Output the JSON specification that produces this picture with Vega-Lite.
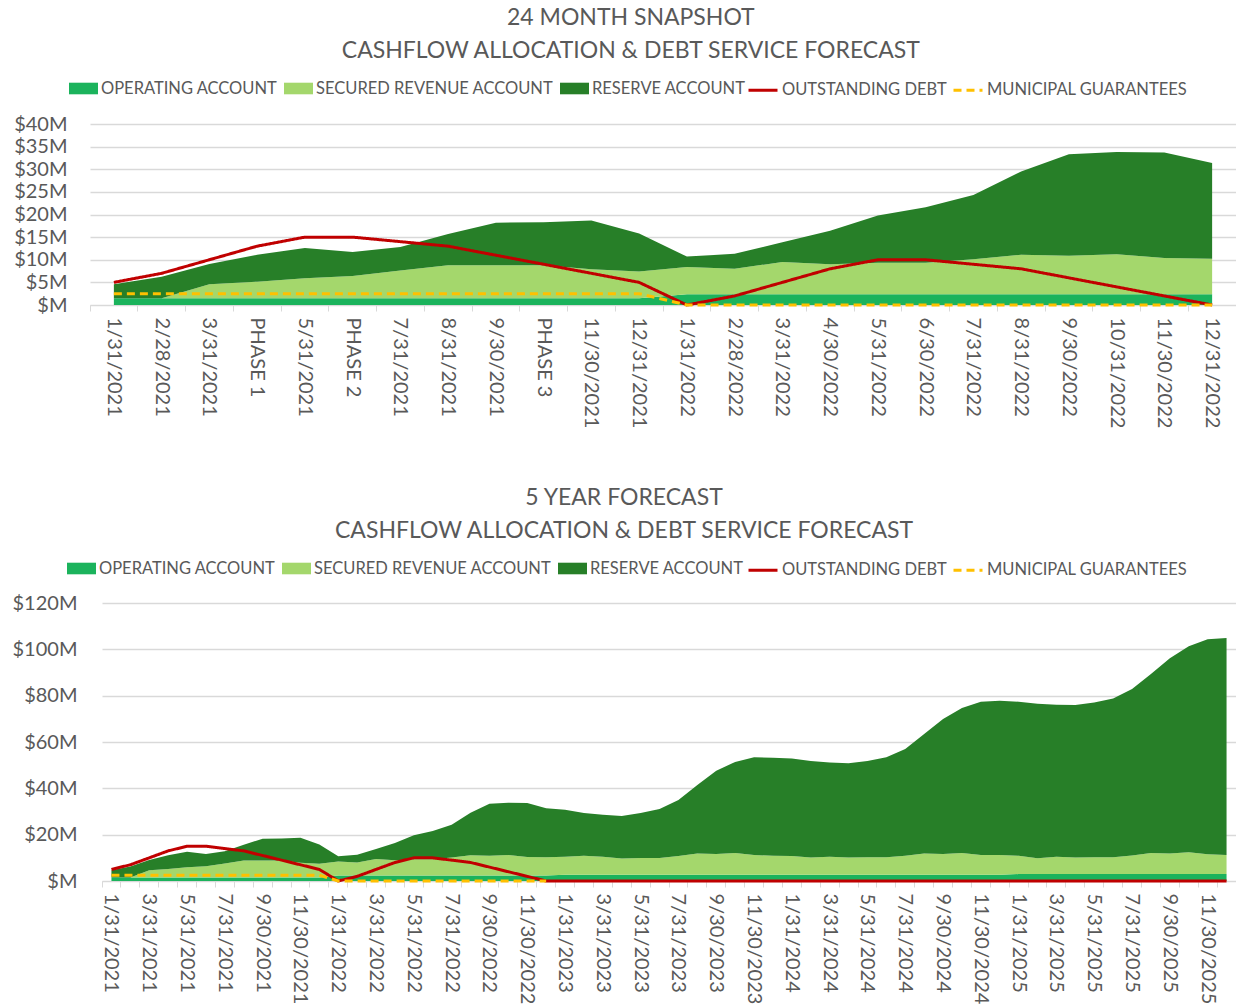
{
  "$schema": "https://vega.github.io/schema/vega-lite/v6.json",
  "background": "white",
  "padding": {"left": 12, "top": 7, "right": 2, "bottom": 0},
  "datasets": {
    "snap": [
      {"m": "1/31/2021", "a_operating": 1.5, "b_secured": 0, "c_reserve": 3.1, "debt": 5, "guarantees": 2.5},
      {"m": "2/28/2021", "a_operating": 1.5, "b_secured": 0, "c_reserve": 4.75, "debt": 7, "guarantees": 2.5},
      {"m": "3/31/2021", "a_operating": 1.5, "b_secured": 3.1, "c_reserve": 4.45, "debt": 10, "guarantees": 2.5},
      {"m": "PHASE 1", "a_operating": 1.5, "b_secured": 3.65, "c_reserve": 5.95, "debt": 13, "guarantees": 2.5},
      {"m": "5/31/2021", "a_operating": 1.5, "b_secured": 4.4, "c_reserve": 6.7, "debt": 15, "guarantees": 2.5},
      {"m": "PHASE 2", "a_operating": 1.5, "b_secured": 4.9, "c_reserve": 5.3, "debt": 15, "guarantees": 2.5},
      {"m": "7/31/2021", "a_operating": 1.5, "b_secured": 6.1, "c_reserve": 5.2, "debt": 14, "guarantees": 2.5},
      {"m": "8/31/2021", "a_operating": 1.5, "b_secured": 7.3, "c_reserve": 6.9, "debt": 13, "guarantees": 2.5},
      {"m": "9/30/2021", "a_operating": 1.5, "b_secured": 7.3, "c_reserve": 9.4, "debt": 11, "guarantees": 2.5},
      {"m": "PHASE 3", "a_operating": 1.5, "b_secured": 7.3, "c_reserve": 9.5, "debt": 9, "guarantees": 2.5},
      {"m": "11/30/2021", "a_operating": 1.5, "b_secured": 6.4, "c_reserve": 10.8, "debt": 7, "guarantees": 2.5},
      {"m": "12/31/2021", "a_operating": 1.5, "b_secured": 5.9, "c_reserve": 8.4, "debt": 5, "guarantees": 2.5},
      {"m": "1/31/2022", "a_operating": 2.4, "b_secured": 6.0, "c_reserve": 2.3, "debt": 0, "guarantees": 0},
      {"m": "2/28/2022", "a_operating": 2.4, "b_secured": 5.6, "c_reserve": 3.3, "debt": 2, "guarantees": 0},
      {"m": "3/31/2022", "a_operating": 2.4, "b_secured": 7.1, "c_reserve": 4.35, "debt": 5, "guarantees": 0},
      {"m": "4/30/2022", "a_operating": 2.4, "b_secured": 6.6, "c_reserve": 7.4, "debt": 8, "guarantees": 0},
      {"m": "5/31/2022", "a_operating": 2.4, "b_secured": 6.95, "c_reserve": 10.45, "debt": 10, "guarantees": 0},
      {"m": "6/30/2022", "a_operating": 2.4, "b_secured": 6.95, "c_reserve": 12.25, "debt": 10, "guarantees": 0},
      {"m": "7/31/2022", "a_operating": 2.4, "b_secured": 7.7, "c_reserve": 14.2, "debt": 9, "guarantees": 0},
      {"m": "8/31/2022", "a_operating": 2.4, "b_secured": 8.7, "c_reserve": 18.4, "debt": 8, "guarantees": 0},
      {"m": "9/30/2022", "a_operating": 2.4, "b_secured": 8.5, "c_reserve": 22.4, "debt": 6, "guarantees": 0},
      {"m": "10/31/2022", "a_operating": 2.4, "b_secured": 8.8, "c_reserve": 22.6, "debt": 4, "guarantees": 0},
      {"m": "11/30/2022", "a_operating": 2.4, "b_secured": 8.0, "c_reserve": 23.3, "debt": 2, "guarantees": 0},
      {"m": "12/31/2022", "a_operating": 2.4, "b_secured": 7.8, "c_reserve": 21.2, "debt": 0, "guarantees": 0}
    ],
    "five": [
      {"m": "1/31/2021", "a_operating": 1.5, "b_secured": 0, "c_reserve": 3.1, "debt": 5, "guarantees": 2.5},
      {"m": "2/28/2021", "a_operating": 1.5, "b_secured": 0, "c_reserve": 4.75, "debt": 7, "guarantees": 2.5},
      {"m": "3/31/2021", "a_operating": 1.5, "b_secured": 3.1, "c_reserve": 4.45, "debt": 10, "guarantees": 2.5},
      {"m": "4/30/2021", "a_operating": 1.5, "b_secured": 3.65, "c_reserve": 5.95, "debt": 13, "guarantees": 2.5},
      {"m": "5/31/2021", "a_operating": 1.5, "b_secured": 4.4, "c_reserve": 6.7, "debt": 15, "guarantees": 2.5},
      {"m": "6/30/2021", "a_operating": 1.5, "b_secured": 4.9, "c_reserve": 5.3, "debt": 15, "guarantees": 2.5},
      {"m": "7/31/2021", "a_operating": 1.5, "b_secured": 6.1, "c_reserve": 5.2, "debt": 14, "guarantees": 2.5},
      {"m": "8/31/2021", "a_operating": 1.5, "b_secured": 7.3, "c_reserve": 6.9, "debt": 13, "guarantees": 2.5},
      {"m": "9/30/2021", "a_operating": 1.5, "b_secured": 7.3, "c_reserve": 9.4, "debt": 11, "guarantees": 2.5},
      {"m": "10/31/2021", "a_operating": 1.5, "b_secured": 7.3, "c_reserve": 9.5, "debt": 9, "guarantees": 2.5},
      {"m": "11/30/2021", "a_operating": 1.5, "b_secured": 6.4, "c_reserve": 10.8, "debt": 7, "guarantees": 2.5},
      {"m": "12/31/2021", "a_operating": 1.5, "b_secured": 5.9, "c_reserve": 8.4, "debt": 5, "guarantees": 2.5},
      {"m": "1/31/2022", "a_operating": 2.4, "b_secured": 6.0, "c_reserve": 2.3, "debt": 0, "guarantees": 0},
      {"m": "2/28/2022", "a_operating": 2.4, "b_secured": 5.6, "c_reserve": 3.3, "debt": 2, "guarantees": 0},
      {"m": "3/31/2022", "a_operating": 2.4, "b_secured": 7.1, "c_reserve": 4.35, "debt": 5, "guarantees": 0},
      {"m": "4/30/2022", "a_operating": 2.4, "b_secured": 6.6, "c_reserve": 7.4, "debt": 8, "guarantees": 0},
      {"m": "5/31/2022", "a_operating": 2.4, "b_secured": 6.95, "c_reserve": 10.45, "debt": 10, "guarantees": 0},
      {"m": "6/30/2022", "a_operating": 2.4, "b_secured": 6.95, "c_reserve": 12.25, "debt": 10, "guarantees": 0},
      {"m": "7/31/2022", "a_operating": 2.4, "b_secured": 7.7, "c_reserve": 14.2, "debt": 9, "guarantees": 0},
      {"m": "8/31/2022", "a_operating": 2.4, "b_secured": 8.7, "c_reserve": 18.4, "debt": 8, "guarantees": 0},
      {"m": "9/30/2022", "a_operating": 2.4, "b_secured": 8.5, "c_reserve": 22.4, "debt": 6, "guarantees": 0},
      {"m": "10/31/2022", "a_operating": 2.4, "b_secured": 8.8, "c_reserve": 22.6, "debt": 4, "guarantees": 0},
      {"m": "11/30/2022", "a_operating": 2.4, "b_secured": 8.0, "c_reserve": 23.3, "debt": 2, "guarantees": 0},
      {"m": "12/31/2022", "a_operating": 2.4, "b_secured": 7.8, "c_reserve": 21.2, "debt": 0, "guarantees": 0},
      {"m": "1/31/2023", "a_operating": 2.7, "b_secured": 7.8, "c_reserve": 20.3, "debt": 0},
      {"m": "2/28/2023", "a_operating": 2.7, "b_secured": 8.2, "c_reserve": 18.4, "debt": 0},
      {"m": "3/31/2023", "a_operating": 2.7, "b_secured": 7.8, "c_reserve": 18.1, "debt": 0},
      {"m": "4/30/2023", "a_operating": 2.7, "b_secured": 7.0, "c_reserve": 18.4, "debt": 0},
      {"m": "5/31/2023", "a_operating": 2.7, "b_secured": 7.2, "c_reserve": 19.4, "debt": 0},
      {"m": "6/30/2023", "a_operating": 2.7, "b_secured": 7.2, "c_reserve": 21.2, "debt": 0},
      {"m": "7/31/2023", "a_operating": 2.7, "b_secured": 8.1, "c_reserve": 24.2, "debt": 0},
      {"m": "8/31/2023", "a_operating": 2.7, "b_secured": 9.2, "c_reserve": 29.5, "debt": 0},
      {"m": "9/30/2023", "a_operating": 2.7, "b_secured": 9.0, "c_reserve": 35.9, "debt": 0},
      {"m": "10/31/2023", "a_operating": 2.7, "b_secured": 9.4, "c_reserve": 39.3, "debt": 0},
      {"m": "11/30/2023", "a_operating": 2.7, "b_secured": 8.5, "c_reserve": 42.2, "debt": 0},
      {"m": "12/31/2023", "a_operating": 2.7, "b_secured": 8.2, "c_reserve": 42.3, "debt": 0},
      {"m": "1/31/2024", "a_operating": 2.7, "b_secured": 8.1, "c_reserve": 42.1, "debt": 0},
      {"m": "2/29/2024", "a_operating": 2.7, "b_secured": 7.4, "c_reserve": 41.7, "debt": 0},
      {"m": "3/31/2024", "a_operating": 2.7, "b_secured": 7.8, "c_reserve": 40.6, "debt": 0},
      {"m": "4/30/2024", "a_operating": 2.7, "b_secured": 7.4, "c_reserve": 40.7, "debt": 0},
      {"m": "5/31/2024", "a_operating": 2.7, "b_secured": 7.5, "c_reserve": 41.6, "debt": 0},
      {"m": "6/30/2024", "a_operating": 2.7, "b_secured": 7.5, "c_reserve": 43.2, "debt": 0},
      {"m": "7/31/2024", "a_operating": 2.7, "b_secured": 8.2, "c_reserve": 46.1, "debt": 0},
      {"m": "8/31/2024", "a_operating": 2.7, "b_secured": 9.2, "c_reserve": 51.5, "debt": 0},
      {"m": "9/30/2024", "a_operating": 2.7, "b_secured": 9.0, "c_reserve": 58.2, "debt": 0},
      {"m": "10/31/2024", "a_operating": 2.7, "b_secured": 9.4, "c_reserve": 62.6, "debt": 0},
      {"m": "11/30/2024", "a_operating": 2.7, "b_secured": 8.5, "c_reserve": 66.2, "debt": 0},
      {"m": "12/31/2024", "a_operating": 2.7, "b_secured": 8.5, "c_reserve": 66.6, "debt": 0},
      {"m": "1/31/2025", "a_operating": 3.0, "b_secured": 7.9, "c_reserve": 66.5, "debt": 0},
      {"m": "2/28/2025", "a_operating": 3.0, "b_secured": 6.8, "c_reserve": 66.7, "debt": 0},
      {"m": "3/31/2025", "a_operating": 3.0, "b_secured": 7.5, "c_reserve": 65.6, "debt": 0},
      {"m": "4/30/2025", "a_operating": 3.0, "b_secured": 7.1, "c_reserve": 65.9, "debt": 0},
      {"m": "5/31/2025", "a_operating": 3.0, "b_secured": 7.2, "c_reserve": 66.9, "debt": 0},
      {"m": "6/30/2025", "a_operating": 3.0, "b_secured": 7.2, "c_reserve": 68.6, "debt": 0},
      {"m": "7/31/2025", "a_operating": 3.0, "b_secured": 8.0, "c_reserve": 71.9, "debt": 0},
      {"m": "8/31/2025", "a_operating": 3.0, "b_secured": 9.1, "c_reserve": 77.2, "debt": 0},
      {"m": "9/30/2025", "a_operating": 3.0, "b_secured": 8.9, "c_reserve": 84.3, "debt": 0},
      {"m": "10/31/2025", "a_operating": 3.0, "b_secured": 9.4, "c_reserve": 88.9, "debt": 0},
      {"m": "11/30/2025", "a_operating": 3.0, "b_secured": 8.5, "c_reserve": 92.9, "debt": 0},
      {"m": "12/31/2025", "a_operating": 3.0, "b_secured": 8.2, "c_reserve": 93.7, "debt": 0}
    ]
  },
  "config": {
    "font": "Lato",
    "view": {"stroke": null},
    "axis": {"labelFont": "Lato", "labelFontSize": 20, "labelColor": "#595959", "titleFont": "Lato"},
    "axisX": {"domainColor": "#d9d9d9", "tickColor": "#d9d9d9", "tickSize": 6, "labelAngle": 90, "labelPadding": 6, "grid": false, "title": null, "bandPosition": 0, "labelOverlap": false},
    "axisY": {"domain": false, "ticks": false, "gridColor": "#d9d9d9", "gridWidth": 1.3, "title": null, "labelOverlap": false, "minExtent": 88, "maxExtent": 88},
    "legend": {"orient": "none", "direction": "horizontal", "labelFont": "Lato", "labelFontSize": 16.5, "labelColor": "#595959", "labelLimit": 0, "labelOffset": 3, "columnPadding": 6, "symbolSize": 841, "padding": 0, "symbolOpacity": 1},
    "title": {"font": "Lato", "fontSize": 23, "fontWeight": "normal", "color": "#595959", "anchor": "middle", "frame": "bounds", "lineHeight": 33, "offset": 11}
  },
  "spacing": 59,
  "resolve": {
    "scale": {"fill": "independent", "stroke": "independent", "strokeDash": "independent"},
    "legend": {"fill": "independent", "stroke": "independent", "strokeDash": "independent"}
  },
  "vconcat": [
    {
      "title": {"text": ["24 MONTH SNAPSHOT", "CASHFLOW ALLOCATION & DEBT SERVICE FORECAST"]},
      "width": 1134,
      "height": 181,
      "data": {"name": "snap"},
      "layer": [
        {
          "transform": [{"fold": ["a_operating", "b_secured", "c_reserve"], "as": ["series", "amount"]}],
          "mark": {"type": "area", "opacity": 1, "interpolate": "linear"},
          "encoding": {
            "x": {"field": "m", "type": "ordinal", "sort": null, "bandPosition": 0.5,
                  "scale": {"type": "band", "paddingInner": 0, "paddingOuter": 0, "range": [-12, 1134]}},
            "y": {"field": "amount", "type": "quantitative", "stack": "zero",
                  "scale": {"domain": [0, 40], "nice": false},
                  "axis": {"values": [0, 5, 10, 15, 20, 25, 30, 35, 40], "tickCount": 12, "labelPadding": 35,
                           "labelExpr": "'$' + (datum.value == 0 ? '' : datum.value) + 'M'"}},
            "fill": {"field": "series", "type": "nominal",
                     "scale": {"domain": ["a_operating", "b_secured", "c_reserve"], "range": ["#1bb35c", "#a4d76c", "#277f28"]},
                     "legend": {"title": null, "symbolType": "M-1,-0.4H1V0.4H-1Z", "symbolStrokeWidth": 0, "legendX": -33, "legendY": -50,
                                "labelExpr": "datum.value == 'a_operating' ? 'OPERATING ACCOUNT' : datum.value == 'b_secured' ? 'SECURED REVENUE ACCOUNT' : 'RESERVE ACCOUNT'"}},
            "order": {"field": "series", "sort": "ascending"}
          }
        },
        {
          "transform": [{"fold": ["debt", "guarantees"], "as": ["series", "amount"]}],
          "mark": {"type": "line", "strokeWidth": 3, "interpolate": "linear"},
          "encoding": {
            "x": {"field": "m", "type": "ordinal", "sort": null, "bandPosition": 0.5},
            "y": {"field": "amount", "type": "quantitative", "scale": {"domain": [0, 40], "nice": false},
                  "axis": {"values": [0, 5, 10, 15, 20, 25, 30, 35, 40], "tickCount": 12, "labelPadding": 35,
                           "labelExpr": "'$' + (datum.value == 0 ? '' : datum.value) + 'M'"}},
            "stroke": {"field": "series", "type": "nominal",
                       "scale": {"domain": ["debt", "guarantees"], "range": ["#c00000", "#ffc000"]},
                       "legend": {"title": null, "symbolType": "stroke", "symbolStrokeWidth": 3, "columnPadding": 0, "legendX": 645, "legendY": -50,
                                  "labelExpr": "datum.value == 'debt' ? 'OUTSTANDING DEBT' : 'MUNICIPAL GUARANTEES'"}},
            "strokeDash": {"field": "series", "type": "nominal",
                           "scale": {"domain": ["debt", "guarantees"], "range": [[1, 0], [8, 5]]},
                           "legend": {"title": null, "symbolType": "stroke", "symbolStrokeWidth": 3, "columnPadding": 0, "legendX": 645, "legendY": -50,
                                      "labelExpr": "datum.value == 'debt' ? 'OUTSTANDING DEBT' : 'MUNICIPAL GUARANTEES'"}}
          }
        }
      ]
    },
    {
      "title": {"text": ["5 YEAR FORECAST", "CASHFLOW ALLOCATION & DEBT SERVICE FORECAST"]},
      "width": 1134,
      "height": 278,
      "data": {"name": "five"},
      "layer": [
        {
          "transform": [{"fold": ["a_operating", "b_secured", "c_reserve"], "as": ["series", "amount"]}],
          "mark": {"type": "area", "opacity": 1, "interpolate": "linear"},
          "encoding": {
            "x": {"field": "m", "type": "ordinal", "sort": null, "bandPosition": 0.5,
                  "scale": {"type": "band", "paddingInner": 0, "paddingOuter": 0},
                  "axis": {"labelExpr": "toNumber(split(datum.value, '/')[0]) % 2 == 1 ? datum.value : ''"}},
            "y": {"field": "amount", "type": "quantitative", "stack": "zero",
                  "scale": {"domain": [0, 120], "nice": false},
                  "axis": {"values": [0, 20, 40, 60, 80, 100, 120], "tickCount": 10, "labelPadding": 25,
                           "labelExpr": "'$' + (datum.value == 0 ? '' : datum.value) + 'M'"}},
            "fill": {"field": "series", "type": "nominal",
                     "scale": {"domain": ["a_operating", "b_secured", "c_reserve"], "range": ["#1bb35c", "#a4d76c", "#277f28"]},
                     "legend": {"title": null, "symbolType": "M-1,-0.4H1V0.4H-1Z", "symbolStrokeWidth": 0, "legendX": -35, "legendY": -49,
                                "labelExpr": "datum.value == 'a_operating' ? 'OPERATING ACCOUNT' : datum.value == 'b_secured' ? 'SECURED REVENUE ACCOUNT' : 'RESERVE ACCOUNT'"}},
            "order": {"field": "series", "sort": "ascending"}
          }
        },
        {
          "transform": [{"fold": ["debt", "guarantees"], "as": ["series", "amount"]}],
          "mark": {"type": "line", "strokeWidth": 3, "interpolate": "linear"},
          "encoding": {
            "x": {"field": "m", "type": "ordinal", "sort": null, "bandPosition": 0.5},
            "y": {"field": "amount", "type": "quantitative", "scale": {"domain": [0, 120], "nice": false},
                  "axis": {"values": [0, 20, 40, 60, 80, 100, 120], "tickCount": 10, "labelPadding": 25,
                           "labelExpr": "'$' + (datum.value == 0 ? '' : datum.value) + 'M'"}},
            "stroke": {"field": "series", "type": "nominal",
                       "scale": {"domain": ["debt", "guarantees"], "range": ["#c00000", "#ffc000"]},
                       "legend": {"title": null, "symbolType": "stroke", "symbolStrokeWidth": 3, "columnPadding": 0, "legendX": 645, "legendY": -49,
                                  "labelExpr": "datum.value == 'debt' ? 'OUTSTANDING DEBT' : 'MUNICIPAL GUARANTEES'"}},
            "strokeDash": {"field": "series", "type": "nominal",
                           "scale": {"domain": ["debt", "guarantees"], "range": [[1, 0], [8, 5]]},
                           "legend": {"title": null, "symbolType": "stroke", "symbolStrokeWidth": 3, "columnPadding": 0, "legendX": 645, "legendY": -49,
                                      "labelExpr": "datum.value == 'debt' ? 'OUTSTANDING DEBT' : 'MUNICIPAL GUARANTEES'"}}
          }
        }
      ]
    }
  ]
}
